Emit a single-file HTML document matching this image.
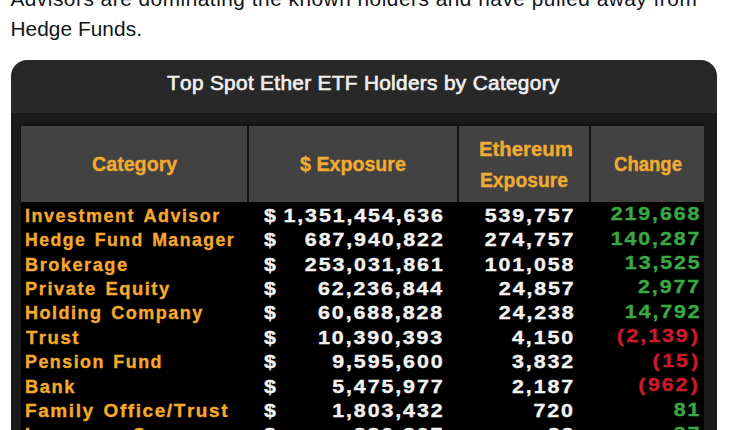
<!DOCTYPE html>
<html><head><meta charset="utf-8">
<style>
*{margin:0;padding:0;box-sizing:border-box}
html,body{width:731px;height:430px;overflow:hidden;background:#fff}
body{position:relative;font-family:"Liberation Sans",sans-serif;font-variant-ligatures:none;font-kerning:none}
div{position:absolute;white-space:nowrap}
.tw{color:#0f1419}
.hd{background:#424242}
.dv{background:#151515}
.h{color:#f1ab33;font-weight:bold;-webkit-text-stroke:0.35px #f1ab33;transform-origin:0 0}
.t{font-weight:bold;-webkit-text-stroke:0.35px currentColor}
.o{color:#f5a92e}
.w{color:#f2f2f2}
.p1{margin-right:0.6px}.p2{margin-left:1.2px}
.g{color:#3aa843}
.r{color:#cc1a2b}
</style></head><body>
<div class="tw" style="left:10.4px;top:-16.36px;font-size:20.8px;line-height:30.1px;letter-spacing:0.52px">Advisors are dominating the known holders and have pulled away from</div>
<div class="tw" style="left:10.4px;top:13.74px;font-size:20.8px;line-height:30.1px;letter-spacing:0.08px">Hedge Funds.</div>
<div style="left:11px;top:60px;width:706px;height:410px;border-radius:16px;background:#282828;overflow:hidden"><div style="left:0;top:51px;width:706px;height:2px;background:#2a2a2a"></div><div style="left:0;top:53px;width:706px;height:400px;background:#1b1b1b"></div></div>
<div style="left:166.6px;top:72.99px;font-size:19.5px;line-height:21.5px;letter-spacing:0.3px;color:#f0f0f0;font-weight:normal;-webkit-text-stroke:0.6px #f0f0f0;transform-origin:0 0;transform:scaleX(1.067)">Top Spot Ether ETF Holders by Category</div>
<div class="dv" style="left:20px;top:123px;width:684px;height:79px"></div>
<div class="hd" style="left:21px;top:126px;width:226px;height:76px"></div>
<div class="hd" style="left:249px;top:126px;width:208px;height:76px"></div>
<div class="hd" style="left:459px;top:126px;width:130px;height:76px"></div>
<div class="hd" style="left:591px;top:126px;width:113px;height:76px"></div>
<div style="left:21px;top:202px;width:683px;height:228px;background:#000"></div>
<div class="h" id="h0" style="left:91.59px;top:153.69px;font-size:19.5px;line-height:21.5px;transform:scaleX(1.0083)">Category</div>
<div class="h" id="h1" style="left:299.60px;top:154.29px;font-size:19.5px;line-height:21.5px;transform:scaleX(1.0076)">$ Exposure</div>
<div class="h" id="h2" style="left:478.76px;top:139.19px;font-size:19.5px;line-height:21.5px;transform:scaleX(1.0438)">Ethereum</div>
<div class="h" id="h3" style="left:479.80px;top:169.79px;font-size:19.5px;line-height:21.5px;transform:scaleX(0.9898)">Exposure</div>
<div class="h" id="h4" style="left:614.00px;top:154.49px;font-size:19.5px;line-height:21.5px;transform:scaleX(0.9500)">Change</div>
<div class="t o" id="r0" style="left:25.00px;top:205.66px;font-size:18px;line-height:20px;letter-spacing:1.5px;word-spacing:2px;transform-origin:0 0;transform:scaleX(0.9990)">Investment Advisor</div><div class="t w" style="left:263.9px;top:205.66px;font-size:18px;line-height:20px;transform-origin:0 0;transform:scaleX(1.188)">$</div><div class="t w" style="right:286.51px;top:205.66px;font-size:18px;line-height:20px;letter-spacing:1.6px;transform-origin:100% 0;transform:scaleX(1.188)">1,351,454,636</div><div class="t w" style="right:155.71px;top:205.66px;font-size:18px;line-height:20px;letter-spacing:1.6px;transform-origin:100% 0;transform:scaleX(1.188)">539,757</div><div class="t g" style="right:29.71px;top:204.16px;font-size:18px;line-height:20px;letter-spacing:1.6px;transform-origin:100% 0;transform:scaleX(1.188)">219,668</div>
<div class="t o" id="r1" style="left:25.02px;top:230.08px;font-size:18px;line-height:20px;letter-spacing:1.5px;word-spacing:2px;transform-origin:0 0;transform:scaleX(0.9821)">Hedge Fund Manager</div><div class="t w" style="left:263.9px;top:230.08px;font-size:18px;line-height:20px;transform-origin:0 0;transform:scaleX(1.188)">$</div><div class="t w" style="right:286.51px;top:230.08px;font-size:18px;line-height:20px;letter-spacing:1.6px;transform-origin:100% 0;transform:scaleX(1.188)">687,940,822</div><div class="t w" style="right:155.71px;top:230.08px;font-size:18px;line-height:20px;letter-spacing:1.6px;transform-origin:100% 0;transform:scaleX(1.188)">274,757</div><div class="t g" style="right:29.71px;top:228.58px;font-size:18px;line-height:20px;letter-spacing:1.6px;transform-origin:100% 0;transform:scaleX(1.188)">140,287</div>
<div class="t o" id="r2" style="left:24.99px;top:254.50px;font-size:18px;line-height:20px;letter-spacing:1.5px;word-spacing:2px;transform-origin:0 0;transform:scaleX(1.0100)">Brokerage</div><div class="t w" style="left:263.9px;top:254.50px;font-size:18px;line-height:20px;transform-origin:0 0;transform:scaleX(1.188)">$</div><div class="t w" style="right:286.51px;top:254.50px;font-size:18px;line-height:20px;letter-spacing:1.6px;transform-origin:100% 0;transform:scaleX(1.188)">253,031,861</div><div class="t w" style="right:155.71px;top:254.50px;font-size:18px;line-height:20px;letter-spacing:1.6px;transform-origin:100% 0;transform:scaleX(1.188)">101,058</div><div class="t g" style="right:29.71px;top:253.00px;font-size:18px;line-height:20px;letter-spacing:1.6px;transform-origin:100% 0;transform:scaleX(1.188)">13,525</div>
<div class="t o" id="r3" style="left:24.98px;top:278.92px;font-size:18px;line-height:20px;letter-spacing:1.5px;word-spacing:2px;transform-origin:0 0;transform:scaleX(1.0184)">Private Equity</div><div class="t w" style="left:263.9px;top:278.92px;font-size:18px;line-height:20px;transform-origin:0 0;transform:scaleX(1.188)">$</div><div class="t w" style="right:286.51px;top:278.92px;font-size:18px;line-height:20px;letter-spacing:1.6px;transform-origin:100% 0;transform:scaleX(1.188)">62,236,844</div><div class="t w" style="right:155.71px;top:278.92px;font-size:18px;line-height:20px;letter-spacing:1.6px;transform-origin:100% 0;transform:scaleX(1.188)">24,857</div><div class="t g" style="right:29.71px;top:277.42px;font-size:18px;line-height:20px;letter-spacing:1.6px;transform-origin:100% 0;transform:scaleX(1.188)">2,977</div>
<div class="t o" id="r4" style="left:25.00px;top:303.34px;font-size:18px;line-height:20px;letter-spacing:1.5px;word-spacing:2px;transform-origin:0 0;transform:scaleX(1.0017)">Holding Company</div><div class="t w" style="left:263.9px;top:303.34px;font-size:18px;line-height:20px;transform-origin:0 0;transform:scaleX(1.188)">$</div><div class="t w" style="right:286.51px;top:303.34px;font-size:18px;line-height:20px;letter-spacing:1.6px;transform-origin:100% 0;transform:scaleX(1.188)">60,688,828</div><div class="t w" style="right:155.71px;top:303.34px;font-size:18px;line-height:20px;letter-spacing:1.6px;transform-origin:100% 0;transform:scaleX(1.188)">24,238</div><div class="t g" style="right:29.71px;top:301.84px;font-size:18px;line-height:20px;letter-spacing:1.6px;transform-origin:100% 0;transform:scaleX(1.188)">14,792</div>
<div class="t o" id="r5" style="left:26.00px;top:327.76px;font-size:18px;line-height:20px;letter-spacing:1.5px;word-spacing:2px;transform-origin:0 0;transform:scaleX(1.0294)">Trust</div><div class="t w" style="left:263.9px;top:327.76px;font-size:18px;line-height:20px;transform-origin:0 0;transform:scaleX(1.188)">$</div><div class="t w" style="right:286.51px;top:327.76px;font-size:18px;line-height:20px;letter-spacing:1.6px;transform-origin:100% 0;transform:scaleX(1.188)">10,390,393</div><div class="t w" style="right:155.71px;top:327.76px;font-size:18px;line-height:20px;letter-spacing:1.6px;transform-origin:100% 0;transform:scaleX(1.188)">4,150</div><div class="t r" style="right:30.71px;top:326.26px;font-size:18px;line-height:20px;letter-spacing:1.6px;transform-origin:100% 0;transform:scaleX(1.188)"><span class="p1">(</span>2,139<span class="p2">)</span></div>
<div class="t o" id="r6" style="left:25.01px;top:352.18px;font-size:18px;line-height:20px;letter-spacing:1.5px;word-spacing:2px;transform-origin:0 0;transform:scaleX(0.9926)">Pension Fund</div><div class="t w" style="left:263.9px;top:352.18px;font-size:18px;line-height:20px;transform-origin:0 0;transform:scaleX(1.188)">$</div><div class="t w" style="right:286.51px;top:352.18px;font-size:18px;line-height:20px;letter-spacing:1.6px;transform-origin:100% 0;transform:scaleX(1.188)">9,595,600</div><div class="t w" style="right:155.71px;top:352.18px;font-size:18px;line-height:20px;letter-spacing:1.6px;transform-origin:100% 0;transform:scaleX(1.188)">3,832</div><div class="t r" style="right:30.71px;top:350.68px;font-size:18px;line-height:20px;letter-spacing:1.6px;transform-origin:100% 0;transform:scaleX(1.188)"><span class="p1">(</span>15<span class="p2">)</span></div>
<div class="t o" id="r7" style="left:24.98px;top:376.60px;font-size:18px;line-height:20px;letter-spacing:1.5px;word-spacing:2px;transform-origin:0 0;transform:scaleX(1.0167)">Bank</div><div class="t w" style="left:263.9px;top:376.60px;font-size:18px;line-height:20px;transform-origin:0 0;transform:scaleX(1.188)">$</div><div class="t w" style="right:286.51px;top:376.60px;font-size:18px;line-height:20px;letter-spacing:1.6px;transform-origin:100% 0;transform:scaleX(1.188)">5,475,977</div><div class="t w" style="right:155.71px;top:376.60px;font-size:18px;line-height:20px;letter-spacing:1.6px;transform-origin:100% 0;transform:scaleX(1.188)">2,187</div><div class="t r" style="right:30.71px;top:375.10px;font-size:18px;line-height:20px;letter-spacing:1.6px;transform-origin:100% 0;transform:scaleX(1.188)"><span class="p1">(</span>962<span class="p2">)</span></div>
<div class="t o" id="r8" style="left:24.95px;top:401.02px;font-size:18px;line-height:20px;letter-spacing:1.5px;word-spacing:2px;transform-origin:0 0;transform:scaleX(1.0545)">Family Office/Trust</div><div class="t w" style="left:263.9px;top:401.02px;font-size:18px;line-height:20px;transform-origin:0 0;transform:scaleX(1.188)">$</div><div class="t w" style="right:286.51px;top:401.02px;font-size:18px;line-height:20px;letter-spacing:1.6px;transform-origin:100% 0;transform:scaleX(1.188)">1,803,432</div><div class="t w" style="right:155.71px;top:401.02px;font-size:18px;line-height:20px;letter-spacing:1.6px;transform-origin:100% 0;transform:scaleX(1.188)">720</div><div class="t g" style="right:29.71px;top:399.52px;font-size:18px;line-height:20px;letter-spacing:1.6px;transform-origin:100% 0;transform:scaleX(1.188)">81</div>
<div class="t o" id="r9" style="left:25.00px;top:425.44px;font-size:18px;line-height:20px;letter-spacing:1.5px;word-spacing:2px;transform-origin:0 0;transform:scaleX(1.0020)">Insurance Company</div><div class="t w" style="left:263.9px;top:425.44px;font-size:18px;line-height:20px;transform-origin:0 0;transform:scaleX(1.188)">$</div><div class="t w" style="right:286.51px;top:425.44px;font-size:18px;line-height:20px;letter-spacing:1.6px;transform-origin:100% 0;transform:scaleX(1.188)">830,307</div><div class="t w" style="right:155.71px;top:425.44px;font-size:18px;line-height:20px;letter-spacing:1.6px;transform-origin:100% 0;transform:scaleX(1.188)">33</div><div class="t g" style="right:29.71px;top:423.94px;font-size:18px;line-height:20px;letter-spacing:1.6px;transform-origin:100% 0;transform:scaleX(1.188)">87</div>
</body></html>
